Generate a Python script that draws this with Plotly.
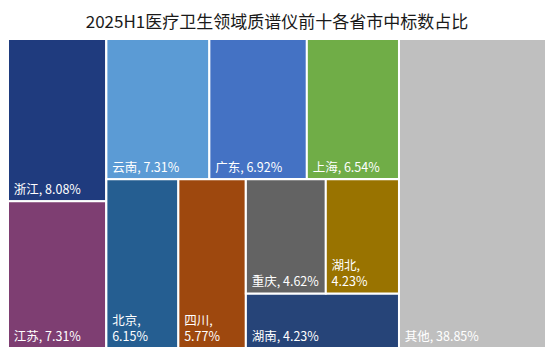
import plotly.graph_objects as go

# ---- data ----
provinces = ["浙江", "江苏", "云南", "广东", "上海", "北京", "四川", "重庆", "湖北", "湖南", "其他"]
share_pct = [8.08, 7.31, 7.31, 6.92, 6.54, 6.15, 5.77, 4.62, 4.23, 4.23, 38.85]
# tile size as drawn in the reference (the "其他" tile is drawn smaller than its label)
tile_size = [8.08, 7.31, 7.31, 6.92, 6.54, 6.15, 5.77, 4.62, 4.23, 4.23, 23.0]

# ---- layout grouping (invisible parents reproduce the reference tiling) ----
leaf_parent = {"浙江": "A", "江苏": "A", "云南": "T", "广东": "T", "上海": "T",
               "北京": "B", "四川": "B", "重庆": "G2", "湖北": "G2", "湖南": "G", "其他": "root"}
group_parent = {"root": "", "A": "root", "M": "root", "T": "M", "B": "M", "G": "B", "G2": "G"}
row_order = ["root", "A", "浙江", "江苏", "M", "T", "云南", "广东", "上海",
             "B", "北京", "四川", "G", "G2", "重庆", "湖北", "湖南", "其他"]

colors = {"浙江": "#1F3B7E", "江苏": "#7E3E72", "云南": "#5B9BD5", "广东": "#4472C4",
          "上海": "#70AD47", "北京": "#255E91", "四川": "#9E480E", "重庆": "#636363",
          "湖北": "#997300", "湖南": "#264478", "其他": "#BFBFBF"}
wrapped = {"北京", "四川", "湖北"}
pad = "\u00a0"

ids, labels, parents, values, custom, tmpl, cols = [], [], [], [], [], [], []
for key in row_order:
    ids.append(key)
    if key in group_parent:
        labels.append("")
        parents.append(group_parent[key])
        values.append(0)
        custom.append(0)
        tmpl.append("")
        cols.append("white")
    else:
        i = provinces.index(key)
        labels.append(key)
        parents.append(leaf_parent[key])
        values.append(tile_size[i])
        custom.append(share_pct[i])
        sep = ",<br>" + pad if key in wrapped else ", "
        tmpl.append(pad + "%{label}" + sep + "%{customdata:.2f}%")
        cols.append(colors[key])

fig = go.Figure(go.Treemap(
    ids=ids, labels=labels, parents=parents, values=values,
    branchvalues="remainder", sort=False,
    customdata=custom, texttemplate=tmpl,
    textposition="bottom left",
    textfont=dict(family="Noto Sans CJK SC", size=12.5, color="white"),
    marker=dict(colors=cols, line=dict(color="white", width=2),
                pad=dict(t=0, l=0, r=0, b=0)),
    tiling=dict(packing="slice-dice", pad=0),
    pathbar=dict(visible=False),
    hoverinfo="skip",
))

fig.update_layout(
    width=554, height=357,
    margin=dict(l=0, r=16, t=31, b=17),
    paper_bgcolor="white",
    title=dict(text="2025H1医疗卫生领域质谱仪前十各省市中标数占比",
               x=0.5, xanchor="center", xref="paper", y=0.96, yanchor="middle",
               font=dict(family="Noto Sans CJK SC", size=17, color="#1a1a1a")),
    uniformtext=dict(minsize=12.5, mode="show"),
)

fig.write_html("out.html")
